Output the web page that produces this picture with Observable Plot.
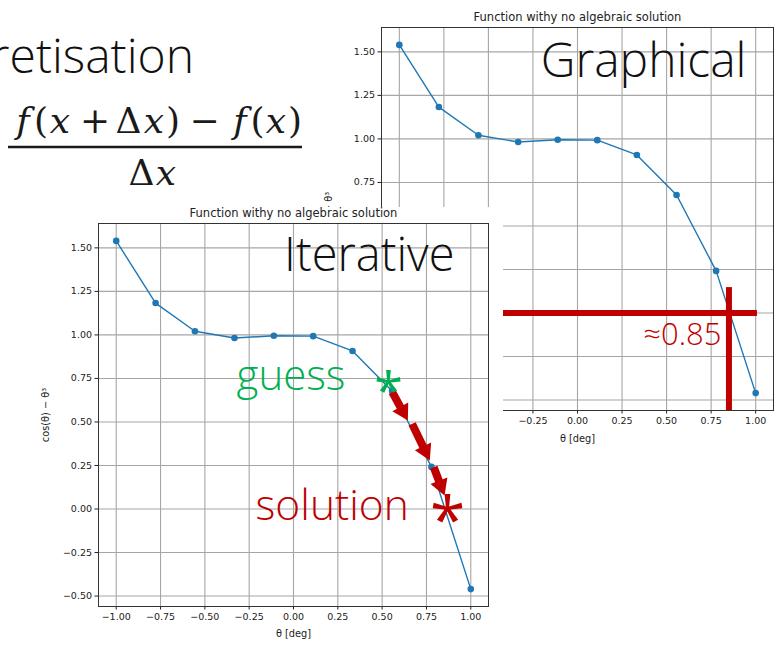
<!DOCTYPE html>
<html>
<head>
<meta charset="utf-8">
<script src="https://cdn.jsdelivr.net/npm/d3@7"></script>
<script src="https://cdn.jsdelivr.net/npm/@observablehq/plot@0.6"></script>
<style>
  html, body { margin: 0; padding: 0; background: #fff; }
  #stage { position: relative; width: 781px; height: 650px; overflow: hidden; background: #fff; }
  #stage > svg { position: absolute; }
</style>
</head>
<body>
<div id="stage"></div>
<script>
// Samples of f(θ) = cos(θ) − θ³ on [−1, 1]
const theta   = [-1, -0.778, -0.556, -0.333, -0.111, 0.111, 0.333, 0.556, 0.778, 1];
const fValues = [1.540, 1.183, 1.021, 0.982, 0.995, 0.993, 0.908, 0.678, 0.242, -0.460];

// Axis setup
const xTicks  = [-1, -0.75, -0.5, -0.25, 0, 0.25, 0.5, 0.75, 1];
const yTicks  = [-0.5, -0.25, 0, 0.25, 0.5, 0.75, 1, 1.25, 1.5];
const xDomain = [-1.1, 1.1];
const yDomain = [-0.56, 1.64];

// Texts
const chartTitle   = "Function withy no algebraic solution";
const xLabel       = "θ [deg]";
const yLabel       = "cos(θ) − θ³";
const headingText  = "Discretisation";
const graphicalTag = "Graphical";
const iterativeTag = "Iterative";
const estimateText = "≈0.85";
const guessText    = "guess";
const solutionText = "solution";

// Difference quotient, glyph by glyph: [text, italic, centre]
const numerator = [["f", 1, 23], ["(", 0, 41], ["x", 1, 60], ["+", 0, 95], ["Δ", 0, 128.5],
  ["x", 1, 154], [")", 0, 173], ["−", 0, 204.5], ["f", 1, 240], ["(", 0, 257.5], ["x", 1, 276], [")", 0, 295]];
const denominator = [["Δ", 0, 141.5], ["x", 1, 166]];

// Graphical root estimate (crosshair)
const rootEstimate = 0.85;
const crossTop     = 0.146;
const crossRight   = 1.01;

// Iteration steps from the guess towards the root
const stepX1 = [0.557, 0.669, 0.791];
const stepY1 = [0.671, 0.489, 0.240];
const stepX2 = [0.645, 0.769, 0.852];
const stepY2 = [0.508, 0.279, 0.078];

// Anchor points of the annotations (data coordinates)
const graphicalAt  = [0.948, 1.358];
const estimateAt   = [0.808, -0.181];
const iterativeAt  = [0.908, 1.37];
const guessAt      = [0.293, 0.681];
const guessStar    = [0.536, 0.738];
const solutionAt   = [-0.214, -0.066];
const solutionStar = [0.869, 0.003];

const BLUE = "#1f77b4", RED = "#c00000", GREEN = "#00b050", INK = "#222";
const points = theta.map((t, i) => ({theta: t, f: fValues[i]}));
const fmt = d3.format(".2f");
const stage = document.getElementById("stage");

function baseMarks(labelDy) {
  const txt = {fill: INK, textAnchor: "middle", lineAnchor: "middle"};
  return [
    Plot.ruleX(xTicks, {stroke: "#a6a6a6", strokeWidth: 1.1}),
    Plot.ruleY(yTicks, {stroke: "#a6a6a6", strokeWidth: 1.1}),
    Plot.frame({stroke: "#333", strokeWidth: 1}),
    Plot.line(points, {x: "theta", y: "f", stroke: BLUE, strokeWidth: 1.4}),
    Plot.dot(points, {x: "theta", y: "f", fill: BLUE, r: 3.3}),
    Plot.text([chartTitle], {...txt, frameAnchor: "top", dy: -10, fontSize: 11.5}),
    Plot.text([xLabel], {...txt, frameAnchor: "bottom", dy: labelDy, fontSize: 9.8}),
    Plot.text([yLabel], {...txt, frameAnchor: "left", dx: -53, rotate: -90, fontSize: 9.8})
  ];
}

function tag(text, at, opts) {
  return Plot.text([text], {x: at[0], y: at[1], fontFamily: "Open Sans", fontWeight: 300,
    lineAnchor: "bottom", ...opts});
}

function chart(size, marks) {
  return Plot.plot({
    ...size,
    style: {fontFamily: "DejaVu Sans", fontSize: "9.5px", color: INK, background: "transparent", overflow: "visible"},
    x: {domain: xDomain, ticks: xTicks, tickFormat: fmt, tickSize: 3.5, tickPadding: 3, label: null},
    y: {domain: yDomain, ticks: yTicks, tickFormat: fmt, tickSize: 3.5, tickPadding: 3, label: null},
    marks
  });
}

// Graphical method (top right)
const graphical = chart(
  {width: 471, height: 450, marginLeft: 71, marginRight: 8, marginTop: 27, marginBottom: 40},
  [
    ...baseMarks(28),
    Plot.ruleY([0], {x1: xDomain[0], x2: crossRight, stroke: RED, strokeWidth: 6}),
    Plot.ruleX([rootEstimate], {y1: crossTop, y2: yDomain[0], stroke: RED, strokeWidth: 6}),
    tag(graphicalTag, graphicalAt, {textAnchor: "end", fontSize: 48, fill: "#111"}),
    tag(estimateText, estimateAt, {textAnchor: "end", fontSize: 31, fill: RED})
  ]
);
graphical.style.left = "310px";
graphical.style.top = "0px";
stage.appendChild(graphical);

// Heading and difference quotient (top left)
const head = d3.create("svg").attr("width", 320).attr("height", 200)
  .style("left", "0px").style("top", "0px");
head.append("text").attr("x", 194).attr("y", 73).attr("text-anchor", "end")
  .attr("font-family", "Open Sans").attr("font-weight", 300).attr("font-size", 48)
  .attr("fill", "#111").text(headingText);
function formulaRow(glyphs, baseline) {
  const t = head.append("text").attr("y", baseline).attr("text-anchor", "middle")
    .attr("font-family", "DejaVu Serif").attr("font-size", 36).attr("fill", "#1a1a1a");
  glyphs.forEach(([s, it, x]) =>
    t.append("tspan").attr("x", x).attr("font-style", it ? "italic" : "normal").text(s));
}
formulaRow(numerator, 133);
head.append("line").attr("x1", 8).attr("x2", 302).attr("y1", 147).attr("y2", 147)
  .attr("stroke", "#1a1a1a").attr("stroke-width", 2.4);
formulaRow(denominator, 185);
stage.appendChild(head.node());

// Iterative method (bottom left, on top)
const iterSize = {width: 503, height: 443, marginLeft: 98, marginRight: 15, marginTop: 16, marginBottom: 44};
// pixels per data unit inside the frame, used to orient the arrowheads
const kx = (iterSize.width - iterSize.marginLeft - iterSize.marginRight) / (xDomain[1] - xDomain[0]);
const ky = (iterSize.height - iterSize.marginTop - iterSize.marginBottom) / (yDomain[1] - yDomain[0]);
const headR = 6.7;                                   // triangle "radius" (area = π r²)
const headH = Math.sqrt(Math.PI * headR * headR / (Math.sqrt(3) / 4)) * Math.sqrt(3) / 2; // triangle height, px
const steps = stepX1.map((x1, i) => {
  const y1 = stepY1[i], x2 = stepX2[i], y2 = stepY2[i];
  const len = Math.hypot((x2 - x1) * kx, (y2 - y1) * ky);
  const tHead = 1 - (2 / 3) * headH / len;           // centroid of the head
  const tShaft = 1 - (headH - 2) / len;              // where the shaft stops
  return {
    x1, y1,
    sx: x1 + tShaft * (x2 - x1), sy: y1 + tShaft * (y2 - y1),
    hx: x1 + tHead * (x2 - x1), hy: y1 + tHead * (y2 - y1),
    angle: Math.atan2((x2 - x1) * kx, (y2 - y1) * ky) * 180 / Math.PI
  };
});

const iterative = chart(iterSize, [
  ...baseMarks(27),
  Plot.link(steps, {x1: "x1", y1: "y1", x2: "sx", y2: "sy", stroke: RED, strokeWidth: 8, strokeLinecap: "butt"}),
  Plot.dot(steps, {x: "hx", y: "hy", symbol: "triangle", r: headR, rotate: "angle", fill: RED, stroke: "none"}),
  tag(iterativeTag, iterativeAt, {textAnchor: "end", fontSize: 47, fill: "#111"}),
  tag(guessText, guessAt, {textAnchor: "end", fontSize: 42, fill: GREEN}),
  tag(solutionText, solutionAt, {textAnchor: "start", fontSize: 42.5, fill: RED}),
  tag("*", guessStar, {textAnchor: "middle", fontSize: 52, fontWeight: 400, dy: 28, fill: GREEN}),
  tag("*", solutionStar, {textAnchor: "middle", fontSize: 64, fontWeight: 400, dy: 35, fill: RED})
]);
iterative.style.left = "0px";
iterative.style.top = "207px";
iterative.style.background = "#fff";
stage.appendChild(iterative);
</script>
</body>
</html>
